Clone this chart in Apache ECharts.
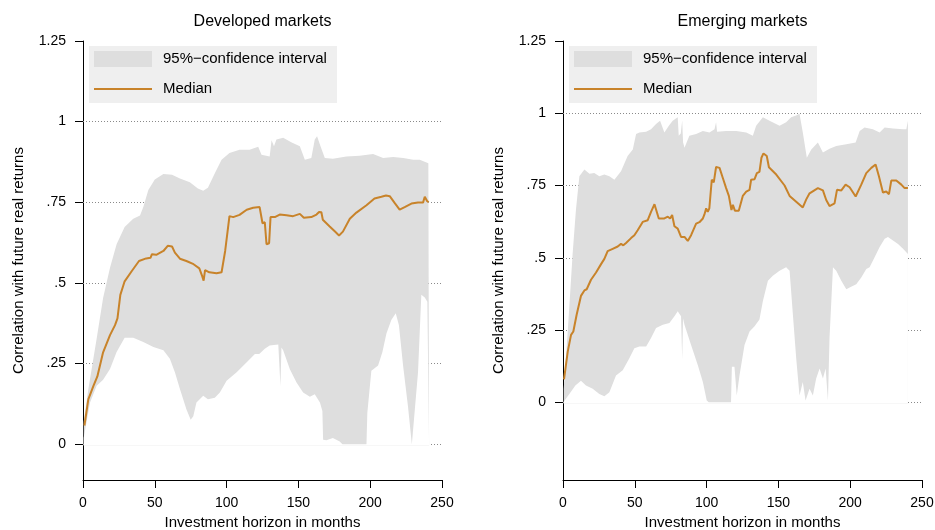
<!DOCTYPE html>
<html>

<head>
  <meta charset="utf-8" />
  <title></title>
  <script src="https://cdn.jsdelivr.net/npm/echarts@6/dist/echarts.min.js"></script>
  <style>
    html, body { margin: 0; padding: 0; background: #fff; }
  </style>
</head>

<body>
  <div id="main" style="width: 935px;height:530px;"></div>
  <script type="text/javascript">
    // [months, correlation]
    var devMedian = [[1,0.058],[3.7,0.139],[7.2,0.18],[10,0.21],[14,0.285],[18.8,0.338],[22.3,0.369],[24,0.39],[26,0.463],[29,0.505],
      [34,0.537],[39,0.568],[44,0.576],[47,0.578],[48,0.589],[51,0.587],[52,0.584],[56,0.599],[59,0.615],[62,0.613],
      [64,0.594],[67.5,0.575],[72,0.568],[77,0.558],[81,0.545],[83,0.521],[84,0.507],[85,0.54],[88,0.533],[93,0.53],
      [96.5,0.533],[99,0.599],[102,0.707],[104.6,0.704],[109,0.711],[114,0.727],[118.5,0.733],[123,0.735],[125,0.685],[126.6,0.688],
      [127.8,0.62],[129.6,0.623],[130.6,0.704],[133.6,0.704],[137,0.712],[141.7,0.71],[146.3,0.707],[151,0.714],[153.8,0.702],[159,0.704],
      [162.6,0.712],[164.4,0.72],[166,0.719],[167,0.696],[171.8,0.675],[175.3,0.66],[178.3,0.647],[181,0.659],[185.8,0.699],[190.4,0.718],
      [197.4,0.741],[203,0.762],[207.8,0.767],[211,0.771],[213.6,0.769],[217,0.748],[220.5,0.727],[224,0.735],[228.7,0.746],[233.3,0.749],
      [236.8,0.749],[238,0.767],[239.6,0.754],[240.7,0.75]];
    var devUpper = [[0.5,0.07],[3.7,0.17],[9.5,0.327],[14,0.453],[18.8,0.547],[23.4,0.62],[29,0.673],[35,0.699],[39.7,0.709],[42,0.735],
      [45.5,0.788],[50,0.821],[56,0.838],[62,0.835],[67.5,0.824],[74.4,0.812],[80,0.793],[83.7,0.786],[87,0.795],[91.8,0.84],
      [96.5,0.882],[102,0.903],[109,0.913],[116,0.913],[122,0.922],[124.3,0.897],[130,0.892],[131.3,0.942],[133,0.924],[134.7,0.945],
      [139.4,0.95],[145,0.936],[151,0.924],[154.5,0.882],[159,0.887],[161.4,0.945],[163,0.955],[165.4,0.924],[168.4,0.887],[174,0.885],
      [183.4,0.892],[192.7,0.894],[202,0.9],[209,0.887],[216,0.89],[223,0.887],[230,0.882],[234.5,0.882],[240.5,0.871],[241,0.871]];
    var devLower = [[0.5,0.02],[4.9,0.129],[9.5,0.181],[14,0.2],[18.8,0.233],[23.4,0.286],[29,0.33],[35,0.33],[42,0.317],[49,0.301],
      [56,0.291],[60.5,0.265],[64,0.223],[67.5,0.171],[72,0.108],[75,0.076],[76.8,0.087],[79,0.129],[83.7,0.15],[87,0.139],
      [91.8,0.144],[95.3,0.16],[100,0.197],[107,0.223],[114,0.254],[119.7,0.28],[122.7,0.28],[126.6,0.296],[130,0.306],[136,0.309],
      [137.5,0.18],[138.2,0.3],[139.4,0.291],[144,0.233],[148.7,0.191],[153.3,0.16],[158,0.147],[161.4,0.155],[165,0.129],[166.7,0.103],
      [167.2,0.014],[169.5,0.012],[174,0.019],[178.8,0.008],[180.7,0],[197.4,0],[198,0.097],[200.8,0.228],[205.5,0.244],[208.5,0.286],
      [211.3,0.343],[214.7,0.385],[217.8,0.406],[220,0.369],[222.9,0.244],[226.3,0.118],[229,0],[229.8,0],[233.3,0.223],[235.6,0.463],
      [238,0.455],[239.8,0.442],[241,0.44]];

    var emMedian = [[0.7,0.079],[3.3,0.175],[5.6,0.233],[7.2,0.245],[9.5,0.303],[12.5,0.368],[14.9,0.387],[16.5,0.391],[19.5,0.424],[23,0.449],
      [26.5,0.478],[28.8,0.496],[31.1,0.523],[34.6,0.531],[38.1,0.539],[40.4,0.548],[42,0.543],[43.9,0.551],[47.4,0.568],[49.7,0.578],
      [52,0.595],[55.5,0.624],[59,0.63],[61.3,0.659],[63.7,0.685],[64.8,0.685],[66.7,0.636],[70.6,0.636],[73,0.642],[74.6,0.636],
      [76,0.648],[77.6,0.609],[79.9,0.601],[82.2,0.572],[84.6,0.572],[86.9,0.558],[89.2,0.578],[92.7,0.618],[95,0.623],[97.4,0.636],
      [98.5,0.65],[99.7,0.671],[100.8,0.659],[101.9,0.671],[103.6,0.77],[105,0.761],[106.6,0.814],[109,0.811],[111.3,0.776],[113.6,0.741],
      [115.5,0.714],[117.3,0.665],[118.3,0.683],[119.7,0.663],[122.4,0.663],[125.2,0.714],[127.6,0.729],[129.9,0.735],[131,0.77],[133.4,0.772],
      [135,0.793],[136.8,0.797],[138.2,0.846],[139.6,0.861],[141.9,0.852],[143.4,0.813],[148.5,0.788],[154.3,0.75],[157.8,0.714],[162.4,0.694],
      [167,0.674],[169.4,0.702],[171.7,0.723],[177.5,0.741],[181,0.733],[183.3,0.7],[185.6,0.679],[189.1,0.688],[190.8,0.735],[193.8,0.733],
      [196.8,0.753],[199.6,0.744],[203.8,0.712],[207.7,0.753],[211.2,0.793],[214.7,0.811],[217.7,0.823],[220,0.782],[222.8,0.726],[225.1,0.729],
      [227,0.72],[228.6,0.767],[232.1,0.767],[235.6,0.753],[237.9,0.741],[240.2,0.741]];
    var emUpper = [[0.5,0.047],[3.3,0.245],[6.7,0.513],[9,0.665],[11.4,0.782],[14.9,0.805],[18.4,0.791],[21.8,0.793],[25.3,0.782],[28.8,0.788],
      [32.3,0.782],[35.8,0.77],[40.4,0.799],[45,0.852],[48.6,0.875],[50.9,0.928],[53.2,0.933],[57.9,0.936],[61.3,0.945],[64.8,0.963],
      [67.6,0.974],[70.6,0.933],[73.7,0.957],[76.4,0.974],[79.9,0.986],[80.6,0.922],[82,0.93],[83,0.975],[83.6,0.9],[84.6,0.881],
      [88,0.922],[92.7,0.928],[97.4,0.939],[102,0.933],[105.5,0.945],[106.6,0.969],[107.3,0.936],[113.6,0.939],[120.6,0.939],[127.6,0.933],
      [132.2,0.922],[134.5,0.957],[139.2,0.986],[143.8,0.974],[150.8,0.957],[155.4,0.969],[158.9,0.986],[162.4,0.992],[164.7,0.998],[167,0.933],
      [169.8,0.846],[172.9,0.875],[177.5,0.899],[181,0.864],[185.6,0.877],[190.3,0.887],[197.3,0.893],[203.8,0.899],[206.6,0.939],[210,0.951],
      [215.8,0.945],[220.5,0.933],[224,0.951],[229.8,0.947],[236.8,0.945],[239.1,0.945],[240.2,0.974]];
    var emLower = [[0.5,0.002],[4.4,0.029],[8.6,0.058],[12.5,0.074],[16,0.058],[20.7,0.047],[25.3,0.029],[28.8,0.021],[32.3,0.035],[36.9,0.093],
      [41.6,0.111],[46.2,0.152],[49.7,0.187],[53.2,0.193],[57.9,0.193],[61.3,0.222],[64.8,0.257],[69.5,0.268],[74.1,0.274],[77.6,0.298],
      [79.9,0.315],[82.2,0.298],[83,0.15],[83.6,0.29],[84.6,0.268],[89.2,0.198],[93.9,0.128],[97.4,0.07],[100.1,0.006],[101.5,0],
      [117,0],[117.6,0.123],[119.4,0.123],[121,0.023],[122.9,0.093],[126.4,0.198],[129.9,0.245],[133.4,0.263],[136.8,0.286],[139.2,0.35],
      [142.7,0.42],[146.1,0.438],[150.8,0.455],[155.4,0.467],[157.8,0.455],[160.1,0.303],[162.4,0.152],[164.7,0.023],[167,0.07],[168.9,0.006],
      [171.7,0.047],[174,0.023],[176.3,0.082],[178.7,0.117],[181,0.082],[182.9,0.117],[184.5,0.006],[185.6,0.222],[188,0.467],[190.3,0.455],
      [193.8,0.42],[197.3,0.391],[199.6,0.397],[204.2,0.408],[207.7,0.432],[211.2,0.461],[213.5,0.467],[217,0.502],[220.5,0.537],[224,0.566],
      [226.3,0.572],[229.8,0.56],[233.3,0.548],[236.8,0.531],[240.2,0.513]];

    var panelTitles = ['Developed markets', 'Emerging markets'];
    var yTicks = [0, 0.25, 0.5, 0.75, 1, 1.25];
    var gridVals = [0, 0.25, 0.5, 0.75, 1];
    var yMins = [-0.111, -0.269];

    var FONT = 'Liberation Sans';
    var ORANGE = '#c8832a';
    var BAND = '#dedede';
    var panelLeft = [83, 563];

    var bands = [[devUpper, devLower, devMedian], [emUpper, emLower, emMedian]];

    var xAxes = [], yAxes = [], grids = [], titles = [], series = [], graphics = [];
    panelLeft.forEach(function (left, i) {
      grids.push({ left: left, top: 41, width: 359, height: 439, outerBoundsMode: 'none', containLabel: false });
      titles.push({
        text: panelTitles[i], left: left + 179.5 - 5, top: 9, textAlign: 'center',
        textStyle: { fontFamily: FONT, fontSize: 16, fontWeight: 'normal', color: '#000' }
      });
      xAxes.push({
        type: 'value', gridIndex: i, min: 0, max: 250, interval: 50,
        name: 'Investment horizon in months', nameLocation: 'middle', nameGap: 28,
        nameTextStyle: { fontFamily: FONT, fontSize: 15, color: '#000' },
        axisLine: { onZero: false, lineStyle: { color: '#000', width: 1 } },
        axisTick: { length: 8, lineStyle: { color: '#000' } },
        axisLabel: { margin: 16, fontFamily: FONT, fontSize: 14, color: '#000' },
        splitLine: { show: false }
      });
      yAxes.push({
        type: 'value', gridIndex: i, min: yMins[i], max: 1.25,
        name: 'Correlation with future real returns', nameLocation: 'middle', nameGap: 57,
        nameTextStyle: { fontFamily: FONT, fontSize: 15, color: '#000' },
        axisLine: { show: true, onZero: false, lineStyle: { color: '#000', width: 1 } },
        axisTick: { show: true, length: 8, customValues: yTicks, lineStyle: { color: '#000' } },
        axisLabel: {
          margin: 17, fontFamily: FONT, fontSize: 14, color: '#000', customValues: yTicks,
          formatter: function (v) { return String(+v.toFixed(2)).replace(/^0\./, '.'); }
        },
        splitLine: { show: false }
      });

      var b = bands[i];
      // dotted grid lines, kept under the band
      series.push({
        type: 'line', xAxisIndex: i, yAxisIndex: i, data: [], z: 1, silent: true,
        markLine: {
          z: 1, silent: true, symbol: 'none', label: { show: false },
          lineStyle: { color: '#8a8a8a', width: 1, type: [1, 2] },
          data: gridVals.map(function (v) { return { yAxis: v }; })
        }
      });
      // band: grey area down to 0, then white area from the lower bound down to 0
      series.push({
        type: 'line', xAxisIndex: i, yAxisIndex: i, data: b[0], z: 2, silent: true,
        symbol: 'none', lineStyle: { opacity: 0 }, areaStyle: { color: BAND, opacity: 1, origin: -0.004 }
      });
      series.push({
        type: 'line', xAxisIndex: i, yAxisIndex: i, data: b[1], z: 3, silent: true,
        symbol: 'none', lineStyle: { opacity: 0 }, areaStyle: { color: '#fff', opacity: 1, origin: -0.004 }
      });
      series.push({
        type: 'line', xAxisIndex: i, yAxisIndex: i, data: b[2], z: 4, silent: true,
        symbol: 'none', lineStyle: { color: ORANGE, width: 2 }
      });

      // legend box
      var lx = left + 6;
      graphics.push(
        { type: 'rect', left: lx, top: 46, shape: { width: 248, height: 57 }, style: { fill: '#efefef' }, z: 10 },
        { type: 'rect', left: lx + 5, top: 51, shape: { width: 58, height: 16 }, style: { fill: BAND }, z: 11 },
        { type: 'line', shape: { x1: lx + 5, y1: 89, x2: lx + 63, y2: 89 }, style: { stroke: ORANGE, lineWidth: 2 }, z: 11 },
        { type: 'text', x: lx + 74, y: 59, style: { text: '95%\u2212confidence interval', font: '15px "' + FONT + '"', fill: '#000', textVerticalAlign: 'middle', verticalAlign: 'middle' }, z: 11 },
        { type: 'text', x: lx + 74, y: 89, style: { text: 'Median', font: '15px "' + FONT + '"', fill: '#000', textVerticalAlign: 'middle', verticalAlign: 'middle' }, z: 11 }
      );
    });

    var chart = echarts.init(document.getElementById('main'));
    chart.setOption({
      animation: false,
      backgroundColor: '#fff',
      textStyle: { fontFamily: FONT },
      title: titles,
      grid: grids,
      xAxis: xAxes,
      yAxis: yAxes,
      series: series,
      graphic: graphics
    });
  </script>
</body>

</html>
